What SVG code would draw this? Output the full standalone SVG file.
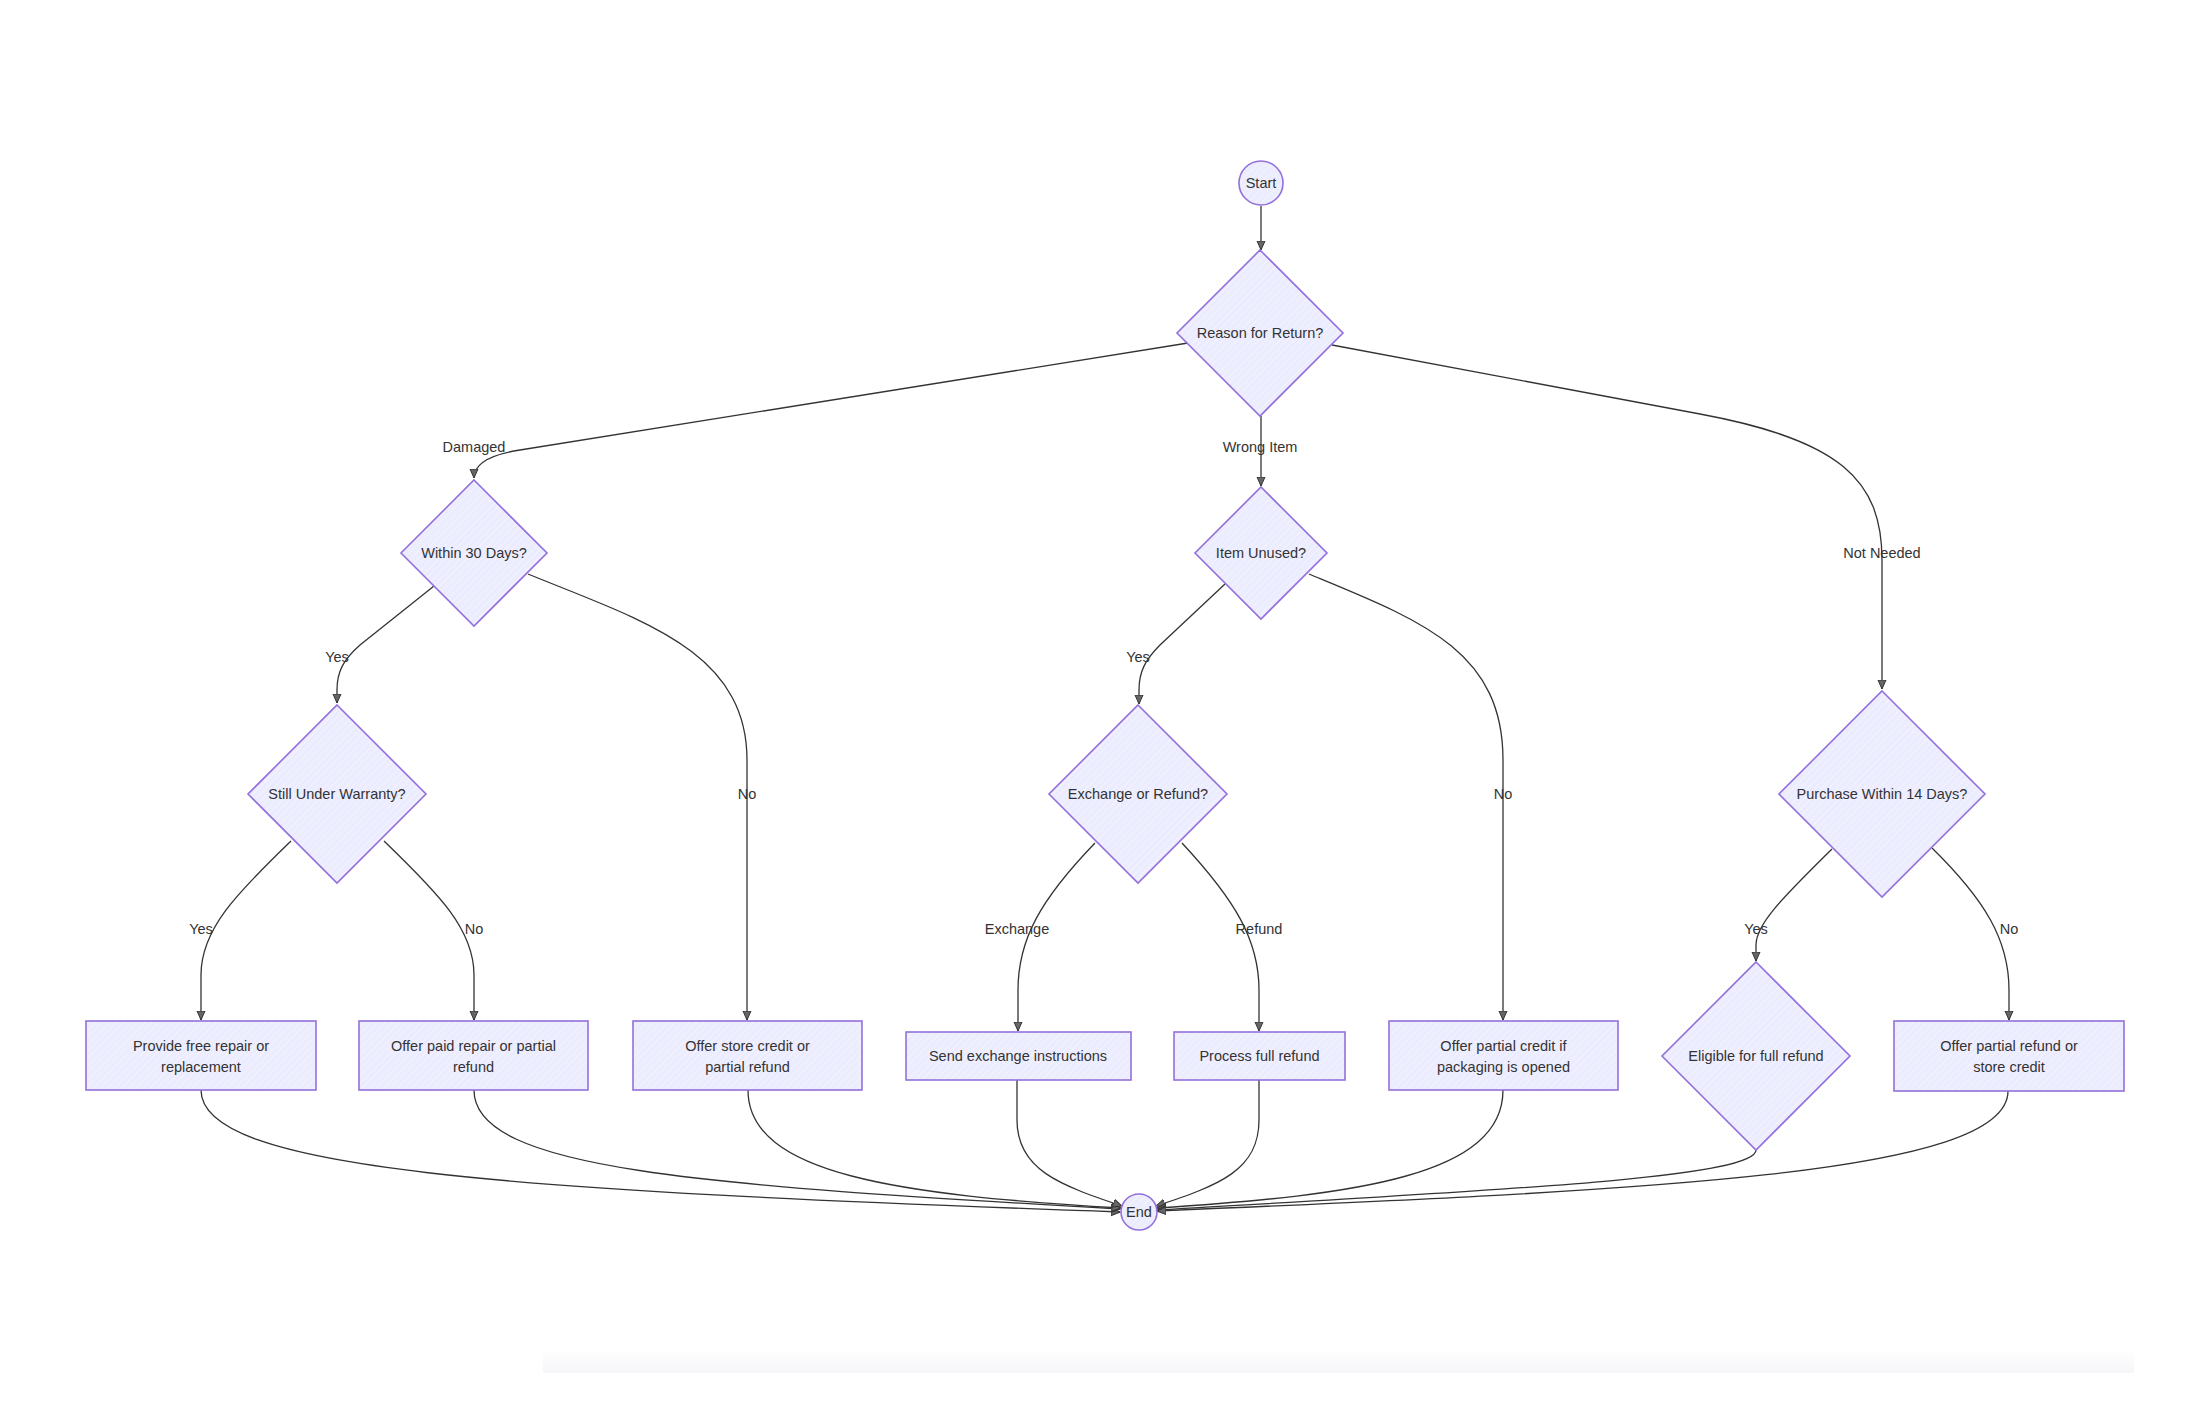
<svg xmlns="http://www.w3.org/2000/svg" width="2206" height="1420" viewBox="0 0 2206 1420">
<defs>
<pattern id="hatch" width="5" height="5" patternUnits="userSpaceOnUse" patternTransform="rotate(45)">
<rect width="5" height="5" fill="#ECECFF"/>
<line x1="0" y1="0" x2="0" y2="5" stroke="#f6f6ff" stroke-width="1.2"/>
</pattern>
<marker id="arr" viewBox="0 0 10 10" refX="9" refY="5" markerWidth="10" markerHeight="10" markerUnits="userSpaceOnUse" orient="auto">
<path d="M0,1 L9,5 L0,9 z" fill="#666" stroke="#333" stroke-width="1"/>
</marker>
<linearGradient id="band" x1="0" y1="0" x2="0" y2="1">
<stop offset="0" stop-color="#ffffff"/>
<stop offset="1" stop-color="#f6f6f9"/>
</linearGradient>
<style>
.node{fill:url(#hatch);stroke:#9370DB;stroke-width:1.6}
.lbl{font-family:"Liberation Sans",Arial,sans-serif;font-size:14.5px;fill:#333;text-anchor:middle;dominant-baseline:central}
.edge{fill:none;stroke:#333;stroke-width:1.3;marker-end:url(#arr)}
</style>
</defs>
<rect width="2206" height="1420" fill="#ffffff"/>
<rect x="543" y="1349" width="1591" height="24" fill="url(#band)"/>

<g id="connectors">
<path class="edge" d="M1261,206 L1261,250"/>
<path class="edge" d="M1188,343 L520,450 Q474,457 474,478"/>
<path class="edge" d="M1261,416 L1261,486"/>
<path class="edge" d="M1332,345 L1700,414 C1840,440 1882,480 1882,560 L1882,689"/>
<path class="edge" d="M434,586 L360,645 C343,660 337,672 337,690 L337,703"/>
<path class="edge" d="M528,574 C640,620 747,650 747,760 L747,1020"/>
<path class="edge" d="M291,841 C235,895 201,930 201,975 L201,1020"/>
<path class="edge" d="M384,841 C440,895 474,930 474,975 L474,1020"/>
<path class="edge" d="M1225,584 L1160,645 C1145,660 1139,672 1139,690 L1139,704"/>
<path class="edge" d="M1309,574 C1420,620 1503,650 1503,760 L1503,1020"/>
<path class="edge" d="M1095,843 C1040,900 1018,940 1018,990 L1018,1031"/>
<path class="edge" d="M1182,843 C1235,900 1259,940 1259,990 L1259,1031"/>
<path class="edge" d="M1832,849 C1780,900 1756,925 1756,945 L1756,961"/>
<path class="edge" d="M1932,848 C1985,900 2009,940 2009,990 L2009,1020"/>
<path class="edge" d="M201,1090 C201,1170 500,1190 1120,1212"/>
<path class="edge" d="M474,1090 C474,1170 700,1185 1120,1209"/>
<path class="edge" d="M748,1090 C748,1175 900,1195 1121,1208"/>
<path class="edge" d="M1017,1080 L1017,1120 C1017,1170 1060,1185 1122,1206"/>
<path class="edge" d="M1259,1080 L1259,1120 C1259,1170 1220,1185 1156,1206"/>
<path class="edge" d="M1503,1090 C1503,1175 1360,1195 1157,1208"/>
<path class="edge" d="M1756,1150 C1756,1178 1500,1190 1157,1210"/>
<path class="edge" d="M2008,1091 C2008,1175 1650,1190 1157,1211"/>
</g>

<g id="edge-labels">
<text class="lbl" x="474" y="447">Damaged</text>
<text class="lbl" x="1260" y="447">Wrong Item</text>
<text class="lbl" x="1882" y="553">Not Needed</text>
<text class="lbl" x="337" y="657">Yes</text>
<text class="lbl" x="747" y="794">No</text>
<text class="lbl" x="1138" y="657">Yes</text>
<text class="lbl" x="1503" y="794">No</text>
<text class="lbl" x="201" y="929">Yes</text>
<text class="lbl" x="474" y="929">No</text>
<text class="lbl" x="1017" y="929">Exchange</text>
<text class="lbl" x="1259" y="929">Refund</text>
<text class="lbl" x="1756" y="929">Yes</text>
<text class="lbl" x="2009" y="929">No</text>
</g>

<g id="start">
<circle class="node" cx="1261" cy="183" r="22"/>
<text class="lbl" x="1261" y="183">Start</text>
</g>
<g id="reason">
<polygon class="node" points="1260,250 1343,333 1260,416 1177,333"/>
<text class="lbl" x="1260" y="333">Reason for Return?</text>
</g>
<g id="within30">
<polygon class="node" points="474,480 547,553 474,626 401,553"/>
<text class="lbl" x="474" y="553">Within 30 Days?</text>
</g>
<g id="itemUnused">
<polygon class="node" points="1261,487 1327,553 1261,619 1195,553"/>
<text class="lbl" x="1261" y="553">Item Unused?</text>
</g>
<g id="warranty">
<polygon class="node" points="337,705 426,794 337,883 248,794"/>
<text class="lbl" x="337" y="794">Still Under Warranty?</text>
</g>
<g id="exchangeOrRefund">
<polygon class="node" points="1138,705 1227,794 1138,883 1049,794"/>
<text class="lbl" x="1138" y="794">Exchange or Refund?</text>
</g>
<g id="purchase14">
<polygon class="node" points="1882,691 1985,794 1882,897 1779,794"/>
<text class="lbl" x="1882" y="794">Purchase Within 14 Days?</text>
</g>
<g id="freeRepair">
<rect class="node" x="86" y="1021" width="230" height="69"/>
<text class="lbl" x="201" y="1045.5">Provide free repair or</text>
<text class="lbl" x="201" y="1066.5">replacement</text>
</g>
<g id="paidRepair">
<rect class="node" x="359" y="1021" width="229" height="69"/>
<text class="lbl" x="473.5" y="1045.5">Offer paid repair or partial</text>
<text class="lbl" x="473.5" y="1066.5">refund</text>
</g>
<g id="storeCredit">
<rect class="node" x="633" y="1021" width="229" height="69"/>
<text class="lbl" x="747.5" y="1045.5">Offer store credit or</text>
<text class="lbl" x="747.5" y="1066.5">partial refund</text>
</g>
<g id="sendExchange">
<rect class="node" x="906" y="1032" width="225" height="48"/>
<text class="lbl" x="1018" y="1056">Send exchange instructions</text>
</g>
<g id="fullRefund">
<rect class="node" x="1174" y="1032" width="171" height="48"/>
<text class="lbl" x="1259.5" y="1056">Process full refund</text>
</g>
<g id="partialCredit">
<rect class="node" x="1389" y="1021" width="229" height="69"/>
<text class="lbl" x="1503.5" y="1045.5">Offer partial credit if</text>
<text class="lbl" x="1503.5" y="1066.5">packaging is opened</text>
</g>
<g id="eligible">
<polygon class="node" points="1756,962 1850,1056 1756,1150 1662,1056"/>
<text class="lbl" x="1756" y="1056">Eligible for full refund</text>
</g>
<g id="partialRefund">
<rect class="node" x="1894" y="1021" width="230" height="70"/>
<text class="lbl" x="2009" y="1045.5">Offer partial refund or</text>
<text class="lbl" x="2009" y="1066.5">store credit</text>
</g>
<g id="end">
<circle class="node" cx="1139" cy="1212" r="18"/>
<text class="lbl" x="1139" y="1212">End</text>
</g>
</svg>
